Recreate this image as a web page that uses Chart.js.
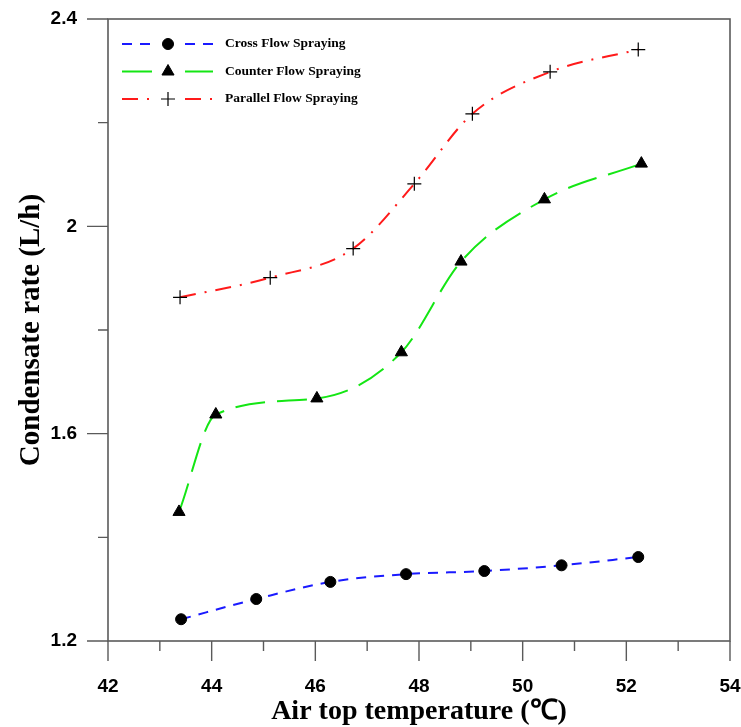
<!DOCTYPE html>
<html lang="en">
<head>
    <meta charset="UTF-8">
    <title>Condensate rate vs air top temperature</title>
    <script src="https://cdn.jsdelivr.net/npm/chart.js"></script>
    <style>
        body { margin: 0; background: #fff; }
        #wrap { width: 741px; height: 727px; }
    </style>
</head>
<body>
    <div id="wrap"><canvas id="chart" width="741" height="727"></canvas></div>

    <script>
        // values
        const crossTemp = [43.41, 44.86, 46.29, 47.75, 49.26, 50.75, 52.23];
        const crossRate = [1.242, 1.281, 1.314, 1.329, 1.335, 1.346, 1.362];

        const counterTemp = [43.37, 44.08, 46.03, 47.66, 48.81, 50.42, 52.29];
        const counterRate = [1.449, 1.637, 1.668, 1.757, 1.932, 2.052, 2.121];

        const parallelTemp = [43.39, 45.13, 46.73, 47.91, 49.03, 50.53, 52.23];
        const parallelRate = [1.863, 1.901, 1.957, 2.082, 2.217, 2.298, 2.341];

        const xTicks = [42, 44, 46, 48, 50, 52, 54];
        const xMinorTicks = [43, 45, 47, 49, 51, 53];
        const yTicks = [1.2, 1.6, 2, 2.4];
        const yTickLabels = ['1.2', '1.6', '2', '2.4'];
        const yMinorTicks = [1.4, 1.8, 2.2];

        const seriesNames = ['Cross Flow Spraying', 'Counter Flow Spraying', 'Parallel Flow Spraying'];

        function toPoints(xs, ys) {
            return xs.map((x, i) => ({ x: x, y: ys[i] }));
        }

        // no extra room for overhanging labels, the plot box is fixed
        function noPad(s) {
            s.paddingTop = 0; s.paddingBottom = 0;
            s.paddingLeft = 0; s.paddingRight = 0;
        }

        const axisColor = '#5a5a5a';

        // frame, outward ticks and the legend inside the plot
        const extras = {
            id: 'extras',
            afterDraw(chart) {
                const ctx = chart.ctx;
                const a = chart.chartArea;
                const xs = chart.scales.x;
                const ys = chart.scales.y;
                ctx.save();
                ctx.strokeStyle = axisColor;
                ctx.lineWidth = 1.6;
                ctx.strokeRect(a.left, a.top, a.right - a.left, a.bottom - a.top);

                ctx.lineWidth = 1.4;
                ctx.beginPath();
                xTicks.forEach(v => {
                    const px = xs.getPixelForValue(v);
                    ctx.moveTo(px, a.bottom); ctx.lineTo(px, a.bottom + 20);
                });
                xMinorTicks.forEach(v => {
                    const px = xs.getPixelForValue(v);
                    ctx.moveTo(px, a.bottom); ctx.lineTo(px, a.bottom + 10);
                });
                yTicks.forEach(v => {
                    const py = ys.getPixelForValue(v);
                    ctx.moveTo(a.left, py); ctx.lineTo(a.left - 21, py);
                });
                yMinorTicks.forEach(v => {
                    const py = ys.getPixelForValue(v);
                    ctx.moveTo(a.left, py); ctx.lineTo(a.left - 10, py);
                });
                ctx.stroke();

                // legend
                chart.data.datasets.forEach((ds, i) => {
                    const y = a.top + 25 + i * 27.5;
                    ctx.strokeStyle = ds.borderColor;
                    ctx.lineWidth = 2;
                    ctx.setLineDash(ds.borderDash);
                    ctx.beginPath();
                    ctx.moveTo(a.left + 14, y); ctx.lineTo(a.left + 48, y);
                    ctx.moveTo(a.left + 77, y); ctx.lineTo(a.left + 105, y);
                    ctx.stroke();
                    ctx.setLineDash([]);
                    ctx.fillStyle = ds.pointBackgroundColor;
                    ctx.strokeStyle = ds.pointBorderColor;
                    ctx.lineWidth = ds.pointBorderWidth;
                    Chart.helpers.drawPoint(ctx, {
                        pointStyle: ds.pointStyle,
                        radius: ds.pointRadius,
                        borderWidth: ds.pointBorderWidth,
                        rotation: 0
                    }, a.left + 60, y);
                    ctx.fillStyle = '#000';
                    ctx.font = 'bold 13.5px "Liberation Serif", "Times New Roman", serif';
                    ctx.textBaseline = 'middle';
                    ctx.textAlign = 'left';
                    ctx.fillText(ds.label, a.left + 117, y);
                });
                ctx.restore();
            }
        };

        const ctx = document.getElementById('chart').getContext('2d');
        const chart = new Chart(ctx, {
            type: 'line',
            data: {
                datasets: [
                    {
                        label: seriesNames[0],
                        data: toPoints(crossTemp, crossRate),
                        borderColor: '#1a1aff',
                        borderWidth: 2,
                        borderDash: [10, 8],
                        pointStyle: 'circle',
                        pointRadius: 5.5,
                        pointBackgroundColor: '#000',
                        pointBorderColor: '#000',
                        pointBorderWidth: 1,
                        cubicInterpolationMode: 'monotone',
                        fill: false
                    },
                    {
                        label: seriesNames[1],
                        data: toPoints(counterTemp, counterRate),
                        borderColor: '#14e614',
                        borderWidth: 2,
                        borderDash: [30, 12],
                        pointStyle: 'triangle',
                        pointRadius: 7,
                        pointBackgroundColor: '#000',
                        pointBorderColor: '#000',
                        pointBorderWidth: 1,
                        cubicInterpolationMode: 'monotone',
                        fill: false
                    },
                    {
                        label: seriesNames[2],
                        data: toPoints(parallelTemp, parallelRate),
                        borderColor: '#ff1a1a',
                        borderWidth: 2,
                        borderDash: [16, 9, 2, 9],
                        pointStyle: 'cross',
                        pointRadius: 7,
                        pointBackgroundColor: '#000',
                        pointBorderColor: '#000',
                        pointBorderWidth: 1.2,
                        cubicInterpolationMode: 'monotone',
                        fill: false
                    }
                ]
            },
            options: {
                responsive: false,
                animation: false,
                layout: { padding: { top: 19, right: 11, left: 0, bottom: 0 } },
                plugins: {
                    legend: { display: false },
                    tooltip: { enabled: false }
                },
                scales: {
                    x: {
                        type: 'linear',
                        min: 42,
                        max: 54,
                        afterBuildTicks: s => { s.ticks = xTicks.map(v => ({ value: v })); },
                        afterFit: s => { s.height = 86; noPad(s); },
                        grid: { display: false, drawTicks: false },
                        border: { display: false },
                        ticks: {
                            padding: 34,
                            color: '#000',
                            font: { family: '"Liberation Sans", Arial, sans-serif', size: 19, weight: 'bold' }
                        },
                        title: {
                            display: true,
                            text: 'Air top temperature (℃)',
                            color: '#000',
                            padding: { top: 0, bottom: 1 },
                            font: { family: '"Liberation Serif", "Times New Roman", serif', size: 28, weight: 'bold', lineHeight: 1.0 }
                        }
                    },
                    y: {
                        type: 'linear',
                        min: 1.2,
                        max: 2.4,
                        afterBuildTicks: s => { s.ticks = yTicks.map(v => ({ value: v })); },
                        afterFit: s => { s.width = 108; noPad(s); },
                        grid: { display: false, drawTicks: false },
                        border: { display: false },
                        ticks: {
                            padding: 31,
                            color: '#000',
                            callback: (v, i) => yTickLabels[i],
                            font: { family: '"Liberation Sans", Arial, sans-serif', size: 19, weight: 'bold' }
                        },
                        title: {
                            display: true,
                            text: 'Condensate rate (L/h)',
                            color: '#000',
                            padding: { top: 14, bottom: 0 },
                            font: { family: '"Liberation Serif", "Times New Roman", serif', size: 29, weight: 'bold' }
                        }
                    }
                }
            },
            plugins: [extras]
        });
    </script>
</body>
</html>
